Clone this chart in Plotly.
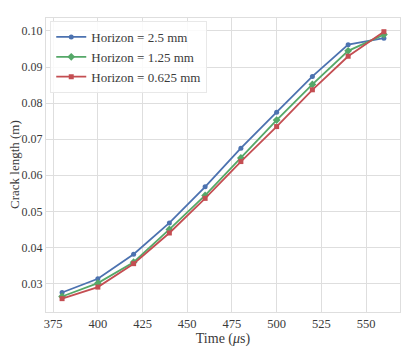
import plotly.graph_objects as go

# Datos
tiempo = [380, 400, 420, 440, 460, 480, 500, 520, 540, 560]
h_2_5 = [0.0275, 0.0313, 0.0381, 0.0468, 0.0568, 0.0675, 0.0775, 0.0874, 0.0962, 0.0980]
h_1_25 = [0.0264, 0.0301, 0.0359, 0.0450, 0.0544, 0.0648, 0.0753, 0.0852, 0.0945, 0.0990]
h_0_625 = [0.0258, 0.0290, 0.0355, 0.0440, 0.0536, 0.0638, 0.0735, 0.0837, 0.0930, 0.0998]

series = [
    ("Horizon = 2.5 mm", h_2_5, "#4C72B0", "circle", 5),
    ("Horizon = 1.25 mm", h_1_25, "#55A868", "diamond", 6),
    ("Horizon = 0.625 mm", h_0_625, "#C44E52", "square", 5),
]

fig = go.Figure()
for nombre, valores, color, simbolo, tam in series:
    fig.add_trace(go.Scatter(
        x=tiempo, y=valores, name=nombre, mode="lines+markers",
        line=dict(color=color, width=1.8),
        marker=dict(symbol=simbolo, size=tam, color=color),
    ))

# la página tiene 8px de margen en el body, se compensa aquí
fuente = "Liberation Serif, DejaVu Serif, serif"
fig.update_layout(
    width=408, height=343,
    margin=dict(l=38, r=16, t=10, b=39),
    paper_bgcolor="white", plot_bgcolor="white",
    font=dict(family=fuente, size=13, color="#3a3a3a"),
    showlegend=True,
    legend=dict(
        x=0.012, y=0.99, xanchor="left", yanchor="top",
        bgcolor="rgba(255,255,255,0.85)", bordercolor="#e8e8e8", borderwidth=1,
        font=dict(family=fuente, size=13, color="#3a3a3a"),
        tracegroupgap=0, itemwidth=30,
    ),
    xaxis=dict(
        range=[371, 569], tickvals=[375, 400, 425, 450, 475, 500, 525, 550],
        showgrid=True, gridcolor="#dedede", gridwidth=1,
        showline=True, linecolor="#dedede", mirror=True, zeroline=False,
        ticks="", tickfont=dict(family=fuente, size=12.5), automargin=False,
        title=dict(text="Time (<i>μ</i>s)", font=dict(family=fuente, size=14), standoff=2),
    ),
    yaxis=dict(
        range=[0.0221, 0.1036], tickvals=[0.03, 0.04, 0.05, 0.06, 0.07, 0.08, 0.09, 0.10],
        tickformat=".2f",
        showgrid=True, gridcolor="#dedede", gridwidth=1,
        showline=True, linecolor="#dedede", mirror=True, zeroline=False,
        ticks="", tickfont=dict(family=fuente, size=12), automargin=False,
    ),
)

# título del eje y como anotación, para que no pise las etiquetas
fig.add_annotation(
    text="Crack length (m)", textangle=-90,
    xref="paper", yref="paper", x=-32 / 354, y=0.5,
    xanchor="center", yanchor="middle", showarrow=False,
    font=dict(family=fuente, size=13, color="#3a3a3a"),
)

fig.write_html("out.html")
